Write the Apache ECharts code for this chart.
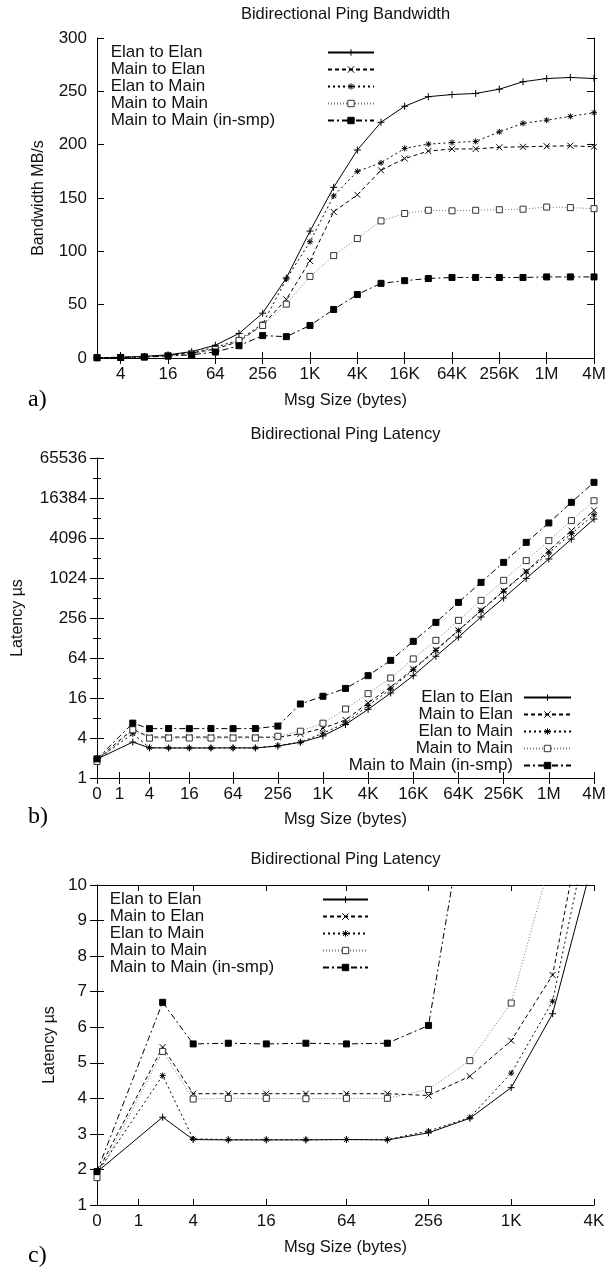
<!DOCTYPE html>
<html>
<head>
<meta charset="utf-8">
<script src="https://cdn.jsdelivr.net/npm/echarts@6/dist/echarts.min.js"></script>
<style>
  html, body { margin: 0; padding: 0; background: #fff; }
  #chart { width: 606px; height: 1270px; }
</style>
</head>
<body>
<div id="chart"></div>
<script>
// message sizes in bytes
var bwSizes = [2, 4, 8, 16, 32, 64, 128, 256, 512, 1024, 2048, 4096, 8192, 16384, 32768,
  65536, 131072, 262144, 524288, 1048576, 2097152, 4194304];
var latSizes = [0, 2, 4, 8, 16, 32, 64, 128, 256, 512, 1024, 2048, 4096, 8192, 16384, 32768,
  65536, 131072, 262144, 524288, 1048576, 2097152, 4194304];

var names = ['Elan to Elan', 'Main to Elan', 'Elan to Main', 'Main to Main', 'Main to Main (in-smp)'];

// bandwidth MB/s (panel a)
var bwElanElan = [0.3, 0.7, 1.5, 3, 6, 12, 23, 42, 75, 119, 160, 195, 221, 236, 245, 247, 248, 252, 259, 262, 263, 262];
var bwMainElan = [0.3, 0.6, 1.2, 2.5, 4.5, 8.5, 15.5, 31, 55, 91, 137, 153, 176, 187, 194, 196, 196, 197.5, 198, 198.5, 199, 198];
var bwElanMain = [0.3, 0.6, 1.3, 2.6, 5, 10, 17, 32, 74, 109, 152, 175, 183, 196.5, 200.5, 202, 203, 212, 220, 223, 226.5, 230];
var bwMainMain = [0.2, 0.5, 1, 2, 4, 8, 16.5, 30.5, 50.5, 76.5, 96, 112, 128.5, 135.5, 138.5, 138, 138.5, 139, 139.5, 141.5, 141, 140];
var bwSmp = [0.3, 0.5, 0.9, 1.8, 3, 5.6, 11.5, 21, 20, 30.5, 45.5, 59.5, 70, 72.5, 74.5, 75.5, 75.5, 75.5, 75.5, 76, 76, 76];

// latency us (panels b and c)
var latElanElan = [1.93, 3.47, 2.84, 2.83, 2.83, 2.83, 2.84, 2.83, 3.03, 3.44, 4.30, 6.38, 10.8, 19, 34.7, 68, 132, 265, 512, 1010, 1980, 3950, 7900];
var latMainElan = [1.9, 5.44, 4.13, 4.13, 4.13, 4.13, 4.13, 4.13, 4.08, 4.62, 5.62, 7.47, 13.5, 23.4, 43.7, 85, 167, 334, 660, 1290, 2640, 5290, 10700];
var latElanMain = [1.9, 4.64, 2.86, 2.84, 2.84, 2.84, 2.84, 2.84, 3.08, 3.46, 4.71, 6.73, 12.3, 21.8, 42.7, 83, 165, 330, 645, 1260, 2440, 4760, 9200];
var latMainMain = [1.77, 5.32, 3.98, 4.0, 4.0, 3.99, 4.0, 4.0, 4.25, 5.06, 6.68, 10.9, 18.6, 32, 62, 118, 236, 472, 944, 1870, 3740, 7480, 14900];
var latSmp = [1.94, 6.70, 5.53, 5.55, 5.53, 5.55, 5.53, 5.55, 6.05, 13, 17, 22.3, 34.7, 59, 114, 220, 440, 880, 1760, 3520, 6900, 14100, 28200];

// x tick labels
var bwTickSizes = [4, 16, 64, 256, 1024, 4096, 16384, 65536, 262144, 1048576, 4194304];
var bwTickLabels = ['4', '16', '64', '256', '1K', '4K', '16K', '64K', '256K', '1M', '4M'];
var latTickSizes = [0, 1, 4, 16, 64, 256, 1024, 4096, 16384, 65536, 262144, 1048576, 4194304];
var latTickLabels = ['0', '1', '4', '16', '64', '256', '1K', '4K', '16K', '64K', '256K', '1M', '4M'];

var bwVals = [bwElanElan, bwMainElan, bwElanMain, bwMainMain, bwSmp];
var latVals = [latElanElan, latMainElan, latElanMain, latMainMain, latSmp];

var FONT = '"Liberation Sans", Arial, sans-serif';
var INK = '#111';

function log2(v) { return Math.log(v) / Math.LN2; }
function bwX(s) { return log2(s); }
function latX(s) { return log2(s + 1); }
function same(v) { return v; }

function points(sizes, vals, fx, fy) {
  return sizes.map(function (s, i) { return [fx(s), fy(vals[i])]; });
}

var looks = [
  { symbol: 'path://M0,4L8,4M4,0L4,8', size: 7, fill: 'transparent', stroke: '#000', line: '#000', dash: 'solid' },
  { symbol: 'path://M0,0L8,8M8,0L0,8', size: 6, fill: 'transparent', stroke: '#000', line: '#000', dash: [4, 3] },
  { symbol: 'path://M0,4L8,4M4,0L4,8M1,1L7,7M7,1L1,7', size: 6, fill: 'transparent', stroke: '#000', line: '#000', dash: [2, 3] },
  { symbol: 'path://M0,0L8,0L8,8L0,8Z', size: 6, fill: '#fff', stroke: '#333', line: '#777', dash: [1, 2] },
  { symbol: 'rect', size: 6, fill: '#000', stroke: '#000', line: '#000', dash: [6, 3, 2, 3] }
];

function makeSeries(k, panel, data) {
  var lk = looks[k];
  return {
    type: 'line', name: names[k],
    xAxisIndex: panel * 2, yAxisIndex: panel * 2,
    data: data,
    symbol: lk.symbol, symbolSize: lk.size, showAllSymbol: true,
    itemStyle: { color: lk.fill, borderColor: lk.stroke, borderWidth: 1 },
    lineStyle: { color: lk.line, width: 1, type: lk.dash },
    emphasis: { disabled: true },
    clip: true
  };
}

function xAxes(grid, min, max, tickPos, tickLabels, gap) {
  var tick = { inside: true, length: 6, lineStyle: { color: '#000' }, customValues: tickPos };
  var line = { lineStyle: { color: '#000', width: 1 } };
  return [{
    type: 'value', gridIndex: grid, position: 'bottom', min: min, max: max,
    axisLine: line, axisTick: tick, splitLine: { show: false },
    axisLabel: {
      customValues: tickPos, margin: 8, fontSize: 17, fontFamily: FONT, color: INK,
      formatter: function (v) {
        for (var i = 0; i < tickPos.length; i++) {
          if (Math.abs(tickPos[i] - v) < 1e-6) return tickLabels[i];
        }
        return '';
      }
    },
    name: 'Msg Size (bytes)', nameLocation: 'middle', nameGap: gap,
    nameTextStyle: { fontSize: 16.5, fontFamily: FONT, color: INK }
  }, {
    type: 'value', gridIndex: grid, position: 'top', min: min, max: max,
    axisLine: line, axisTick: tick, splitLine: { show: false }, axisLabel: { show: false }
  }];
}

function yAxes(grid, min, max, interval, fmt, name, gap, minor) {
  var tick = { inside: true, length: 7, lineStyle: { color: '#000' } };
  var line = { lineStyle: { color: '#000', width: 1 } };
  var minorTick = { show: !!minor, splitNumber: 2, length: 4, lineStyle: { color: '#000' } };
  return [{
    type: 'value', gridIndex: grid, position: 'left', min: min, max: max, interval: interval,
    axisLine: line, axisTick: tick, minorTick: minorTick, splitLine: { show: false },
    axisLabel: { margin: 10, fontSize: 17, fontFamily: FONT, color: INK, formatter: fmt },
    name: name, nameLocation: 'middle', nameGap: gap,
    nameTextStyle: { fontSize: 16, fontFamily: FONT, color: INK }
  }, {
    type: 'value', gridIndex: grid, position: 'right', min: min, max: max, interval: interval,
    axisLine: line, axisTick: tick, minorTick: minorTick, splitLine: { show: false },
    axisLabel: { show: false }
  }];
}

var bwTickPos = bwTickSizes.map(bwX);
var latTickPos = latTickSizes.map(latX);
var latTickPosC = latTickPos.slice(0, 8);

var series = [];
for (var k = 0; k < 5; k++) series.push(makeSeries(k, 0, points(bwSizes, bwVals[k], bwX, same)));
for (var k2 = 0; k2 < 5; k2++) series.push(makeSeries(k2, 1, points(latSizes, latVals[k2], latX, log2)));
for (var k3 = 0; k3 < 5; k3++) series.push(makeSeries(k3, 2, points(latSizes, latVals[k3], latX, same)));

function legend(opts, text) {
  return Object.assign({
    data: names, orient: 'vertical', selectedMode: false, padding: 0,
    itemGap: 0, itemHeight: 8, align: 'right',
    itemStyle: { borderWidth: 1 },
    textStyle: Object.assign({ fontSize: 17, fontFamily: FONT, color: INK, lineHeight: 16.7 }, text)
  }, opts);
}

// names on the left, line samples in a column further right
function legendLeftText(textLeft, iconLeft, top, iconWidth) {
  return [
    legend({ left: textLeft - 6, top: top, itemWidth: 1, align: 'left',
      itemStyle: { color: 'transparent', borderWidth: 0, borderColor: 'transparent' },
      lineStyle: { color: 'transparent', width: 0 } }, {}),
    legend({ left: iconLeft, top: top, itemWidth: iconWidth, align: 'left',
      formatter: function () { return ' '; } }, {})
  ];
}

function title(text, top) {
  return {
    text: text, left: 345.5, top: top, textAlign: 'center', padding: 0,
    textStyle: { fontSize: 16.5, fontWeight: 'normal', fontFamily: FONT, color: INK }
  };
}

function tag(text, top) {
  return {
    type: 'text', left: 28, top: top,
    style: { text: text, font: '24px "Liberation Serif", "Times New Roman", serif', fill: '#000' }
  };
}

var chart = echarts.init(document.getElementById('chart'), null, { renderer: 'canvas' });

chart.setOption({
  animation: false,
  backgroundColor: '#fff',
  title: [
    title('Bidirectional Ping Bandwidth', 6),
    title('Bidirectional Ping Latency', 426),
    title('Bidirectional Ping Latency', 851)
  ],
  grid: [
    { left: 97, top: 38, width: 497, height: 320, outerBoundsMode: 'none' },
    { left: 97, top: 458, width: 497, height: 320, outerBoundsMode: 'none' },
    { left: 97, top: 885, width: 497, height: 320, outerBoundsMode: 'none' }
  ],
  xAxis: []
    .concat(xAxes(0, 1, 22, bwTickPos, bwTickLabels, 34))
    .concat(xAxes(1, 0, latX(4194304), latTickPos, latTickLabels, 33))
    .concat(xAxes(2, 0, latX(4096), latTickPosC, latTickLabels, 34)),
  yAxis: []
    .concat(yAxes(0, 0, 300, 50, null, 'Bandwidth MB/s', 50, false))
    .concat(yAxes(1, 0, 16, 2, function (v) { return String(Math.round(Math.pow(2, v))); }, 'Latency \u00b5s', 71, true))
    .concat(yAxes(2, 1, 10, 1, null, 'Latency \u00b5s', 39, false)),
  legend: []
    .concat(legendLeftText(108, 327, 44, 46))
    .concat([legend({ right: 34, top: 689, itemWidth: 47 }, { width: 240, align: 'right', padding: [0, 6, 0, 0] })])
    .concat(legendLeftText(107, 322, 891, 45)),
  graphic: [tag('a)', 388), tag('b)', 805), tag('c)', 1244)],
  series: series
});
</script>
</body>
</html>
